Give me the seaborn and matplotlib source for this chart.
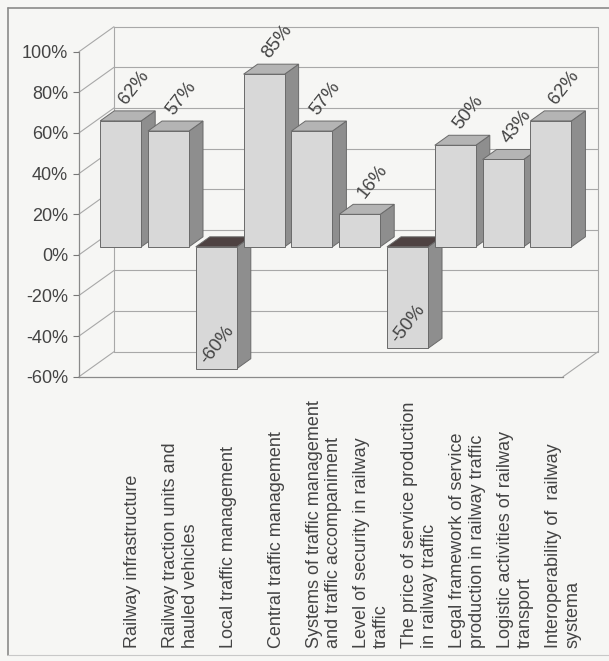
import numpy as np
import pandas as pd
import matplotlib
matplotlib.use("Agg")
import matplotlib.pyplot as plt
import matplotlib.transforms as mtransforms
from matplotlib.patches import Polygon
from matplotlib.lines import Line2D
import seaborn as sns

# ---------------- data ----------------
categories = [
    "Railway infrastructure",
    "Railway traction units and\nhauled vehicles",
    "Local traffic management",
    "Central traffic management",
    "Systems of traffic management\nand traffic accompaniment",
    "Level of security in railway\ntraffic",
    "The price of service production\nin railway traffic",
    "Legal framework of service\nproduction in railway traffic",
    "Logistic activities of railway\ntransport",
    "Interoperability of  railway\nsystema",
]
values = [62, 57, -60, 85, 57, 16, -50, 50, 43, 62]
y_ticks = [-60, -40, -20, 0, 20, 40, 60, 80, 100]
y_tick_labels = [f"{t}%" for t in y_ticks]

# ---------------- style ----------------
sns.set_theme(style="white")
plt.rcParams["font.family"] = ["Liberation Sans", "DejaVu Sans"]

BG = "#f6f6f4"
FRONT = "#d8d8d8"
TOP = "#b4b4b4"
SIDE = "#8e8e8e"
NEG_TOP = "#4e4242"
EDGE = "#6a6a6a"
GRID = "#a8a8a8"
TEXT = "#444444"

W, H, DPI = 609, 661, 100
fig = plt.figure(figsize=(W / DPI, H / DPI), dpi=DPI, facecolor=BG)

# front plane of the 3-D box (pixels in image coordinates)
fx0, fx1, fy_top, fy_bot = 79, 563, 51.7, 376.7
ax = fig.add_axes([fx0 / W, (H - fy_bot) / H, (fx1 - fx0) / W, (fy_bot - fy_top) / H])
ax.set_facecolor("none")

df = pd.DataFrame({"category": categories, "value": values})
sns.barplot(data=df, x="category", y="value", color=FRONT, saturation=1,
            width=0.858, ax=ax, edgecolor=EDGE, linewidth=0.7)

ax.set_ylim(-60, 100)
ax.set_xlim(-0.663, 9.462)
ax.set_yticks(y_ticks)
ax.set_yticklabels(y_tick_labels, fontsize=13, color=TEXT)
ax.set_xticks([])
ax.set_xlabel("")
ax.set_ylabel("")
ax.tick_params(axis="y", left=True, length=4.5, width=0.8, color="#777777", pad=3.5)
for s in ["top", "right"]:
    ax.spines[s].set_visible(False)
for s in ["left", "bottom"]:
    ax.spines[s].set_color("#8a8a8a")
    ax.spines[s].set_linewidth(0.9)

# pixel -> data conversion
p0 = ax.transData.transform((0, 0))
p1 = ax.transData.transform((1, 1))
ppx, ppy = p1[0] - p0[0], p1[1] - p0[1]

def off(dx_px, dy_px):
    return mtransforms.ScaledTranslation(dx_px / DPI, dy_px / DPI, fig.dpi_scale_trans)

# ---------------- walls ----------------
wdx, wdy = 35, 25  # back wall depth in pixels (display, y up)
x0, x1 = ax.get_xlim()
wall_t = ax.transData + off(wdx, wdy)
for t in y_ticks:
    ax.add_line(Line2D([x0, x1], [t, t], transform=wall_t, color=GRID, lw=0.8,
                       zorder=0.5, clip_on=False))
    ax.add_line(Line2D([x0, x0 + wdx / ppx], [t, t + wdy / ppy], color=GRID, lw=0.8,
                       zorder=0.5, clip_on=False))
# back wall vertical edges
ax.add_line(Line2D([x0, x0], [-60, 100], transform=wall_t, color=GRID, lw=0.8,
                   zorder=0.5, clip_on=False))
ax.add_line(Line2D([x1, x1], [-60, 100], transform=wall_t, color=GRID, lw=0.8,
                   zorder=0.5, clip_on=False))
# floor right diagonal
ax.add_line(Line2D([x1, x1 + wdx / ppx], [-60, -60 + wdy / ppy], color=GRID, lw=0.8,
                   zorder=0.5, clip_on=False))

# ---------------- 3-D bars ----------------
bdx, bdy = 10, 8          # bar plane shift from front plane (pixels)
ddx, ddy = 14, 10         # bar depth (pixels)
bar_t = ax.transData + off(bdx, bdy)
dxd, dyd = ddx / ppx, ddy / ppy

for i, patch in enumerate(ax.patches[:len(values)]):
    z = 2 + i * 0.1
    bx, bw, bh = patch.get_x(), patch.get_width(), patch.get_height()
    by = patch.get_y()
    ytop, ybot = max(by, by + bh), min(by, by + bh)
    patch.set_transform(bar_t)
    patch.set_zorder(z)
    patch.set_clip_on(False)
    side = Polygon([(bx + bw, ybot), (bx + bw + dxd, ybot + dyd),
                    (bx + bw + dxd, ytop + dyd), (bx + bw, ytop)],
                   closed=True, facecolor=SIDE, edgecolor=EDGE, lw=0.7,
                   transform=bar_t, zorder=z - 0.02, clip_on=False)
    top = Polygon([(bx, ytop), (bx + dxd, ytop + dyd), (bx + bw + dxd, ytop + dyd),
                   (bx + bw, ytop)], closed=True,
                  facecolor=TOP if values[i] >= 0 else NEG_TOP,
                  edgecolor=EDGE, lw=0.7, transform=bar_t, zorder=z - 0.01, clip_on=False)
    ax.add_patch(side)
    ax.add_patch(top)

    cx = bx + bw / 2
    v = values[i]
    if v >= 0:
        t = ax.transData + off(bdx + 13, bdy + 33)
    else:
        t = ax.transData + off(bdx + 1, bdy + 24)
    ax.text(cx, v, f"{v}%", transform=t, rotation=52, rotation_mode="anchor",
            ha="center", va="center", fontsize=13.5, color=TEXT, zorder=10)

# ---------------- category labels ----------------
lab_t = mtransforms.blended_transform_factory(ax.transData, fig.transFigure) + off(22, 0)
for i, lab in enumerate(categories):
    ax.text(i, (H - 648) / H, lab, transform=lab_t, rotation=90, ha="center",
            va="bottom", multialignment="left", fontsize=13, color=TEXT,
            linespacing=1.2, clip_on=False)

# ---------------- page frame ----------------
fig.add_artist(Line2D([8 / W, 8 / W], [1 - 8 / H, 1 - 655 / H], transform=fig.transFigure,
                      color="#8a8a8a", lw=1.2))
fig.add_artist(Line2D([8 / W, 1.0], [1 - 8 / H, 1 - 8 / H], transform=fig.transFigure,
                      color="#8a8a8a", lw=1.2))
fig.add_artist(Line2D([8 / W, 1.0], [1 - 655 / H, 1 - 655 / H], transform=fig.transFigure,
                      color="#c8c8c8", lw=0.8))

fig.savefig("out.png", dpi=DPI, facecolor=BG)
